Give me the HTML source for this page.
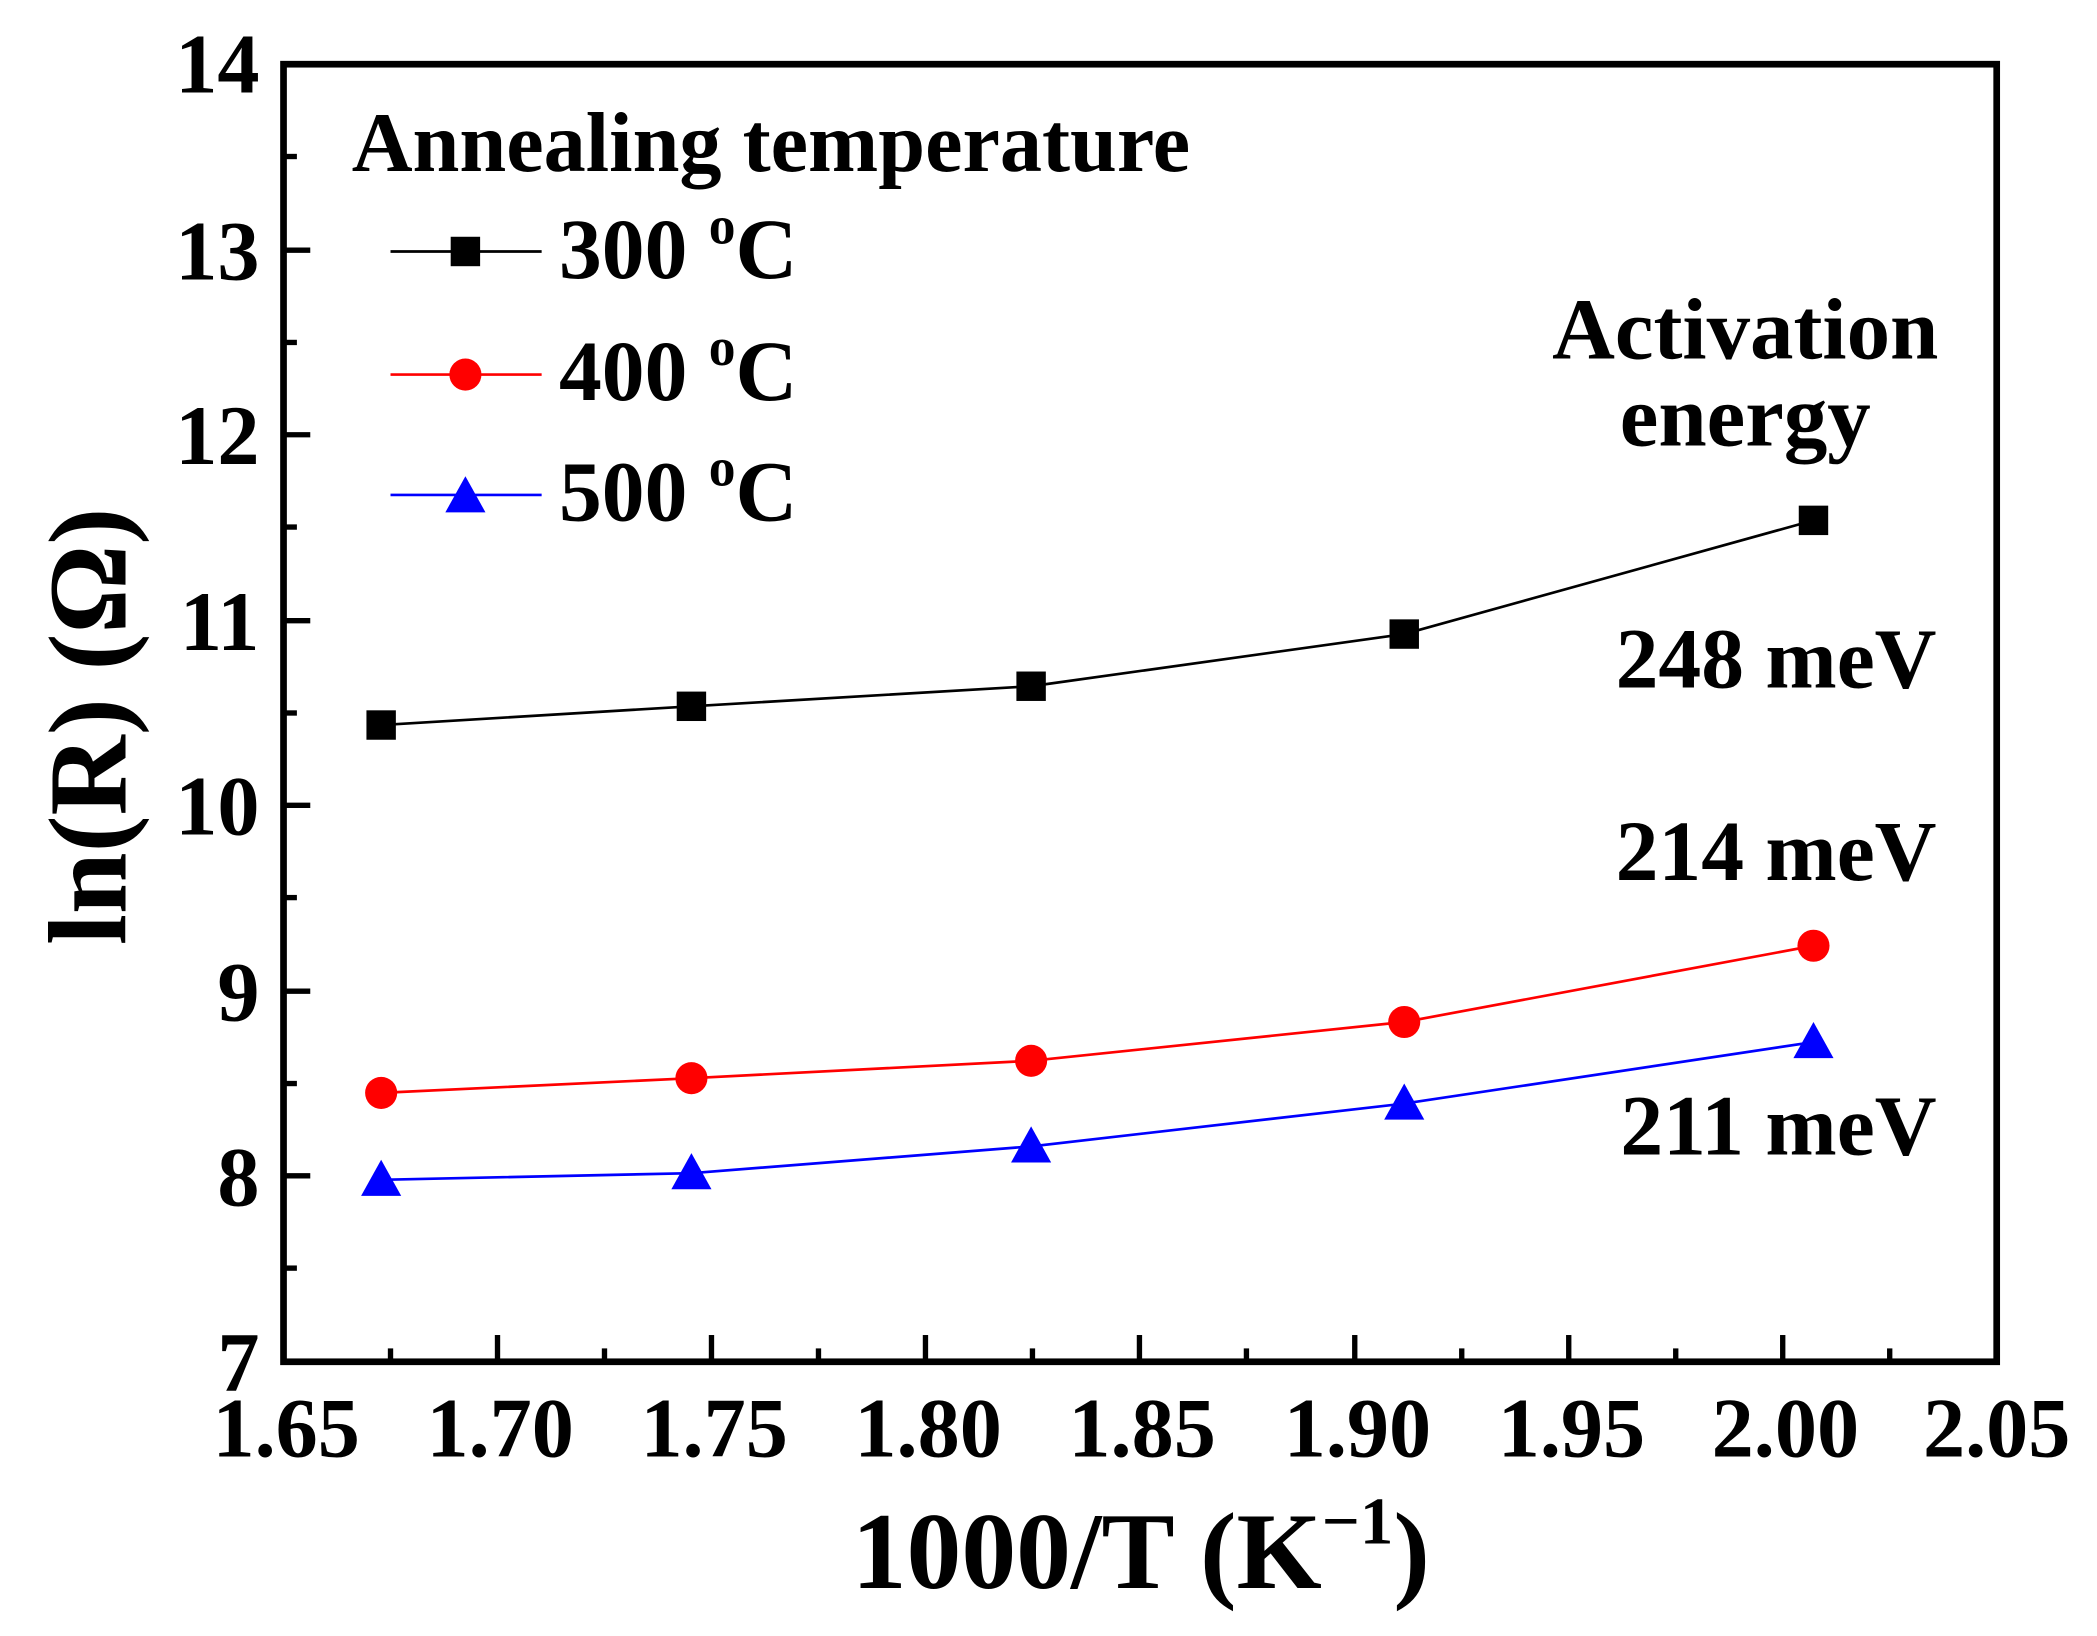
<!DOCTYPE html>
<html><head><meta charset="utf-8"><style>
html,body{margin:0;padding:0;background:#fff;}
svg{display:block;}
text{font-family:"Liberation Serif",serif;font-weight:bold;fill:#000;}
</style></head><body>
<svg width="2097" height="1636" viewBox="0 0 1568 1223" preserveAspectRatio="none">
<rect x="212" y="48" width="1281" height="970" fill="none" stroke="#000" stroke-width="5"/>
<g stroke="#000" stroke-width="4">
<line x1="372" y1="1018" x2="372" y2="998"/><line x1="532" y1="1018" x2="532" y2="998"/><line x1="692" y1="1018" x2="692" y2="998"/><line x1="852" y1="1018" x2="852" y2="998"/><line x1="1013" y1="1018" x2="1013" y2="998"/><line x1="1173" y1="1018" x2="1173" y2="998"/><line x1="1333" y1="1018" x2="1333" y2="998"/>
<line x1="292" y1="1018" x2="292" y2="1008"/><line x1="452" y1="1018" x2="452" y2="1008"/><line x1="612" y1="1018" x2="612" y2="1008"/><line x1="772" y1="1018" x2="772" y2="1008"/><line x1="932" y1="1018" x2="932" y2="1008"/><line x1="1093" y1="1018" x2="1093" y2="1008"/><line x1="1253" y1="1018" x2="1253" y2="1008"/><line x1="1413" y1="1018" x2="1413" y2="1008"/>
<line x1="212" y1="879" x2="232" y2="879"/><line x1="212" y1="741" x2="232" y2="741"/><line x1="212" y1="602" x2="232" y2="602"/><line x1="212" y1="464" x2="232" y2="464"/><line x1="212" y1="325" x2="232" y2="325"/><line x1="212" y1="187" x2="232" y2="187"/>
<line x1="212" y1="948" x2="222" y2="948"/><line x1="212" y1="810" x2="222" y2="810"/><line x1="212" y1="671" x2="222" y2="671"/><line x1="212" y1="533" x2="222" y2="533"/><line x1="212" y1="394" x2="222" y2="394"/><line x1="212" y1="256" x2="222" y2="256"/><line x1="212" y1="117" x2="222" y2="117"/>
</g>
<g font-size="63" text-anchor="middle">
<text x="214" y="1089">1.65</text><text x="374" y="1089">1.70</text><text x="534" y="1089">1.75</text><text x="694" y="1089">1.80</text><text x="854" y="1089">1.85</text><text x="1015" y="1089">1.90</text><text x="1175" y="1089">1.95</text><text x="1335" y="1089">2.00</text><text x="1493" y="1089">2.05</text>
</g>
<g font-size="63" text-anchor="end">
<text x="194" y="1040">7</text><text x="194" y="901">8</text><text x="194" y="763">9</text><text x="194" y="624">10</text><text x="194" y="486">11</text><text x="194" y="347">12</text><text x="194" y="69">14</text><text x="194" y="209">13</text>
</g>
<text x="853" y="1187" font-size="82" text-anchor="middle">1000/T (K<tspan font-size="50" dy="-33">−1</tspan><tspan dy="33">)</tspan></text>
<text transform="translate(94,543) rotate(-90)" font-size="83" text-anchor="middle">ln(R) (Ω)</text>
<polyline points="285,542 517,528 771,513 1050,474 1356,389" fill="none" stroke="#000" stroke-width="2"/>
<polyline points="285,817 517,806 771,793 1050,764 1356,707" fill="none" stroke="#f00" stroke-width="2"/>
<polyline points="285,882 517,877 771,857 1050,825 1356,779" fill="none" stroke="#00f" stroke-width="2"/>
<g fill="#000"><rect x="274" y="531" width="22" height="22"/><rect x="506" y="517" width="22" height="22"/><rect x="760" y="502" width="22" height="22"/><rect x="1039" y="463" width="22" height="22"/><rect x="1345" y="378" width="22" height="22"/></g>
<g fill="#f00"><circle cx="285" cy="817" r="12"/><circle cx="517" cy="806" r="12"/><circle cx="771" cy="793" r="12"/><circle cx="1050" cy="764" r="12"/><circle cx="1356" cy="707" r="12"/></g>
<g fill="#00f"><polygon points="285,867 270,894 300,894"/><polygon points="517,862 502,889 532,889"/><polygon points="771,842 756,869 786,869"/><polygon points="1050,810 1035,837 1065,837"/><polygon points="1356,764 1341,791 1371,791"/></g>
<text x="263" y="128" font-size="63">Annealing temperature</text>
<line x1="292" y1="188" x2="405" y2="188" stroke="#000" stroke-width="2"/><rect x="337" y="177" width="22" height="22" fill="#000"/>
<line x1="292" y1="280" x2="405" y2="280" stroke="#f00" stroke-width="2"/><circle cx="348" cy="280" r="12" fill="#f00"/>
<line x1="292" y1="370" x2="405" y2="370" stroke="#00f" stroke-width="2"/><polygon points="348,356 333,383 363,383" fill="#00f"/>
<g font-size="64">
<text x="418" y="208">300 <tspan font-size="40" dy="-26">o</tspan><tspan dy="26">C</tspan></text>
<text x="418" y="299">400 <tspan font-size="40" dy="-26">o</tspan><tspan dy="26">C</tspan></text>
<text x="418" y="389">500 <tspan font-size="40" dy="-26">o</tspan><tspan dy="26">C</tspan></text>
</g>
<g font-size="65" text-anchor="middle">
<text x="1305" y="268">Activation</text><text x="1305" y="333">energy</text>
</g>
<g font-size="64" text-anchor="end">
<text x="1448" y="514">248 meV</text><text x="1448" y="658">214 meV</text><text x="1448" y="863">211 meV</text>
</g>
</svg>
</body></html>
